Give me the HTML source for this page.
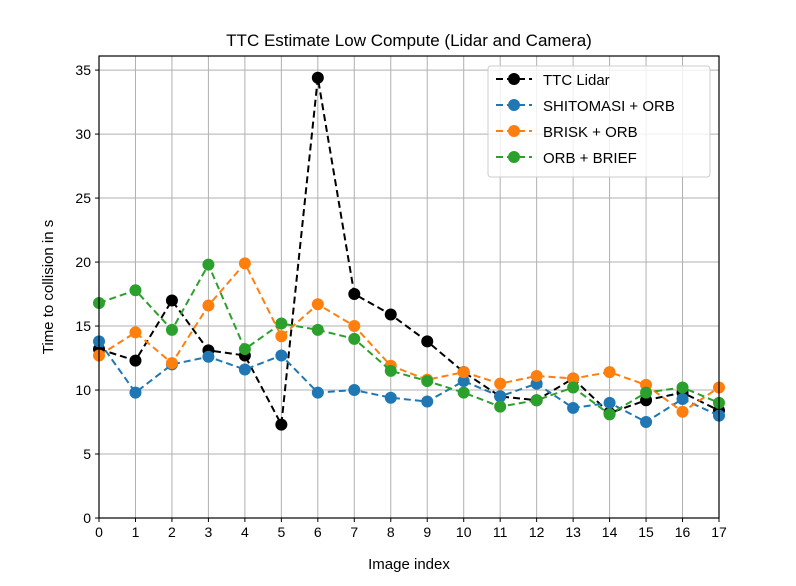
<!DOCTYPE html>
<html><head><meta charset="utf-8"><style>
body{margin:0;background:#fff;}
svg text{font-family:"Liberation Sans","DejaVu Sans",sans-serif;}
</style></head><body>
<svg id="chart" width="796" height="581" xmlns="http://www.w3.org/2000/svg">
<rect width="796" height="581" fill="#fff"/>
<g id="grid"></g><g id="series"></g><g id="axes"></g>
</svg>
<script>
const categories=[0,1,2,3,4,5,6,7,8,9,10,11,12,13,14,15,16,17];
const yTicks=[0,5,10,15,20,25,30,35];
const lidar=[13.2,12.3,17.0,13.1,12.7,7.3,34.4,17.5,15.9,13.8,11.4,9.5,9.2,10.9,8.2,9.2,9.8,8.4];
const shitomasiOrb=[13.8,9.8,12.0,12.6,11.6,12.7,9.8,10.0,9.4,9.1,10.7,9.5,10.5,8.6,9.0,7.5,9.3,8.0];
const briskOrb=[12.7,14.5,12.1,16.6,19.9,14.2,16.7,15.0,11.9,10.8,11.4,10.5,11.1,10.9,11.4,10.4,8.3,10.2];
const orbBrief=[16.8,17.8,14.7,19.8,13.2,15.2,14.7,14.0,11.5,10.7,9.8,8.7,9.2,10.2,8.1,9.8,10.2,9.0];
const seriesNames=["TTC Lidar","SHITOMASI + ORB","BRISK + ORB","ORB + BRIEF"];
const L=99,R=719,T=56,B=518,ymax=36.1;
const xs=i=>L+(i-0)*(R-L)/17;
const ys=v=>B-v*(B-T)/ymax;
const NS="http://www.w3.org/2000/svg";
function mk(tag,attrs,parent,text){const e=document.createElementNS(NS,tag);for(const k in attrs)e.setAttribute(k,attrs[k]);if(text!==undefined)e.textContent=text;parent.appendChild(e);return e;}
const grid=document.getElementById('grid'),ser=document.getElementById('series'),ax=document.getElementById('axes');
categories.forEach(c=>{const g=mk('line',{x1:xs(c),x2:xs(c),y1:T,y2:B,stroke:'#b0b0b0','stroke-width':1},grid);


const t=mk('line',{x1:xs(c),x2:xs(c),y1:B,y2:B+4,stroke:'#000'},ax);


const l=mk('text',{x:xs(c),y:B+19,'text-anchor':'middle','font-size':14},ax,String(c));

});
yTicks.forEach(v=>{const g=mk('line',{x1:L,x2:R,y1:ys(v),y2:ys(v),stroke:'#b0b0b0','stroke-width':1},grid);


const t=mk('line',{x1:L-4,x2:L,y1:ys(v),y2:ys(v),stroke:'#000'},ax);


const l=mk('text',{x:L-8,y:ys(v)+5,'text-anchor':'end','font-size':14},ax,String(v));

});
const fr=mk('rect',{x:L,y:T,width:R-L,height:B-T,fill:'none',stroke:'#000','stroke-width':1.2},ax);


const datas=[lidar,shitomasiOrb,briskOrb,orbBrief];
const colors=['#000000','#1f77b4','#ff7f0e','#2ca02c'];
const names=['lidar','shitomasi-orb','brisk-orb','orb-brief'];
datas.forEach((d,s)=>{const g=mk('g',{},ser);


const p=mk('polyline',{points:d.map((v,i)=>xs(categories[i])+','+ys(v)).join(' '),fill:'none',stroke:colors[s],'stroke-width':2,'stroke-dasharray':'7,4'},g);


d.forEach((v,i)=>{const c=mk('circle',{cx:xs(categories[i]),cy:ys(v),r:6,fill:colors[s]},g);

});});
const tt=mk('text',{x:409,y:46,'text-anchor':'middle','font-size':17},ax,'TTC Estimate Low Compute (Lidar and Camera)');


const xt=mk('text',{x:409,y:569,'text-anchor':'middle','font-size':15},ax,'Image index');


const yt=mk('text',{x:53,y:287,'text-anchor':'middle','font-size':15,transform:'rotate(-90 53 287)'},ax,'Time to collision in s');


const lg=mk('g',{},ax);


mk('rect',{x:488,y:66,width:222,height:111,rx:3,fill:'#fff','fill-opacity':0.8,stroke:'#ccc'},lg);
seriesNames.forEach((n,s)=>{const y=79+s*26;const e=mk('g',{},lg);


mk('line',{x1:496,x2:532,y1:y,y2:y,stroke:colors[s],'stroke-width':2,'stroke-dasharray':'7,4'},e);
mk('circle',{cx:514,cy:y,r:6,fill:colors[s]},e);
mk('text',{x:543,y:y+6,'font-size':15},e,n);});
</script>
</body></html>
